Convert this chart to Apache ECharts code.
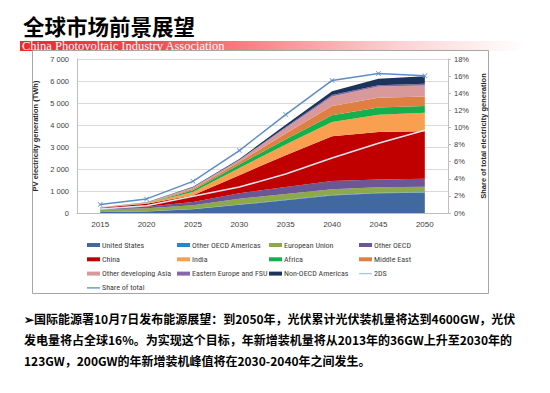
<!DOCTYPE html>
<html><head><meta charset="utf-8">
<script src="https://cdn.jsdelivr.net/npm/echarts@6/dist/echarts.min.js"></script>
<style>html,body{margin:0;padding:0;background:#fff}#c{width:550px;height:393px}</style>
</head><body><div id="c"></div>
<script>
const years = ['2015','2020','2025','2030','2035','2040','2045','2050'];
const unitedStates   = [40, 70, 170, 370, 580, 790, 895, 915];
const otherOecdAmer  = [5, 8, 15, 20, 22, 25, 25, 25];
const europeanUnion  = [110, 140, 170, 260, 265, 260, 245, 253];
const otherOecd      = [45, 70, 150, 250, 310, 375, 360, 362];
const china          = [40, 130, 300, 820, 1450, 2040, 2160, 2160];
const india          = [5, 20, 150, 320, 490, 650, 785, 845];
const africa         = [3, 10, 75, 170, 240, 300, 320, 300];
const middleEast     = [3, 10, 60, 110, 260, 420, 450, 440];
const otherDevAsia   = [5, 15, 65, 80, 250, 440, 510, 500];
const easternEurope  = [2, 5, 10, 20, 40, 60, 60, 80];
const nonOecdAmer    = [5, 12, 25, 40, 100, 170, 290, 340];
const twoDS          = [180, 330, 760, 1180, 1770, 2500, 3170, 3760];
const shareOfTotal   = [1.0, 1.65, 3.7, 7.3, 11.5, 15.5, 16.3, 16.05];

const areaDefs = [
  ['United States', unitedStates, '#41689F'],
  ['Other OECD Americas', otherOecdAmer, '#2A86CC'],
  ['European Union', europeanUnion, '#8EA84C'],
  ['Other OECD', otherOecd, '#6B5795'],
  ['China', china, '#C00000'],
  ['India', india, '#F8A04F'],
  ['Africa', africa, '#13B04B'],
  ['Middle East', middleEast, '#DF7F42'],
  ['Other developing Asia', otherDevAsia, '#D9999B'],
  ['Eastern Europe and FSU', easternEurope, '#8468AA'],
  ['Non-OECD Americas', nonOecdAmer, '#1C3459']
];

const series = areaDefs.map(d => ({
  name: d[0], type: 'line', stack: 'pv', data: d[1], symbol: 'none',
  lineStyle: {width: 0}, areaStyle: {color: d[2], opacity: 1}, itemStyle: {color: d[2]},
  emphasis: {disabled: true}, z: 2
}));
series.push({
  name: '2DS', type: 'line', data: twoDS, symbol: 'none',
  lineStyle: {width: 1.5, color: '#DDE5F0'}, itemStyle: {color: '#A9C6E8'}, z: 5
});
series.push({
  name: 'Share of total', type: 'line', yAxisIndex: 1, data: shareOfTotal,
  symbol: 'path://M0,1L1,0L5,4L9,0L10,1L6,5L10,9L9,10L5,6L1,10L0,9L4,5Z', symbolSize: 5,
  lineStyle: {width: 1.5, color: '#5E8CC8'}, itemStyle: {color: '#5E8CC8'}, z: 6
});

const legendText = {fontSize: 8, color: '#404040', fontFamily: '"Liberation Sans Narrow", "Roboto Condensed", "DejaVu Sans Condensed", "Liberation Sans"', lineHeight: 10, padding: [0, 0, 0, -3]};
const lineIcon = 'path://M0,0H14V1.4H0Z';
function leg(left, names) {
  return {
    orient: 'vertical', left: left, top: 235, itemWidth: 13, itemHeight: 4, itemGap: 4.3,
    textStyle: legendText, selectedMode: false,
    data: names.map(n => ({name: n, icon: (n === '2DS' || n === 'Share of total') ? lineIcon : 'rect'}))
  };
}
const legends = [
  leg(82, ['United States', 'China', 'Other developing Asia', 'Share of total']),
  leg(172, ['Other OECD Americas', 'India', 'Eastern Europe and FSU']),
  leg(264, ['European Union', 'Africa', 'Non-OECD Americas']),
  leg(354, ['Other OECD', 'Middle East', '2DS'])
];

const bodyFont = 'bold 12px "Noto Sans CJK SC"';
const option = {
  animation: false,
  backgroundColor: '#fff',
  grid: {left: 77, right: 102, top: 59, bottom: 180},
  legend: legends,
  xAxis: {
    type: 'category', data: years, boundaryGap: true,
    axisLine: {lineStyle: {color: '#BFBFBF'}}, axisTick: {show: false},
    axisLabel: {fontSize: 8, color: '#404040', margin: 7, fontFamily: 'Liberation Sans'}
  },
  yAxis: [{
    type: 'value', min: 0, max: 7000, interval: 1000,
    name: 'PV electricity generation (TWh)', nameLocation: 'middle', nameRotate: 90, nameGap: 28,
    nameTextStyle: {fontSize: 7.5, fontWeight: 'bold', color: '#262626', fontFamily: 'Liberation Sans'},
    axisLine: {show: true, lineStyle: {color: '#BFBFBF'}}, axisTick: {show: false},
    splitLine: {lineStyle: {color: '#D9D9D9'}},
    axisLabel: {fontSize: 7.5, color: '#404040', margin: 8, fontFamily: 'Liberation Sans',
      formatter: v => v === 0 ? '0' : (v / 1000) + ' 000'}
  }, {
    type: 'value', min: 0, max: 18, interval: 2, position: 'right',
    name: 'Share of total electricity generation', nameLocation: 'middle', nameRotate: 90, nameGap: 25,
    nameTextStyle: {fontSize: 7.5, fontWeight: 'bold', color: '#262626', fontFamily: 'Liberation Sans'},
    axisLine: {show: true, lineStyle: {color: '#BFBFBF'}},
    axisTick: {show: true, length: 3, lineStyle: {color: '#BFBFBF'}},
    splitLine: {show: false},
    axisLabel: {fontSize: 7.5, color: '#404040', margin: 6, fontFamily: 'Liberation Sans', formatter: '{value}%'}
  }],
  series: series,
  graphic: [
    {type: 'rect', z: 0, shape: {x: 20, y: 41, width: 505, height: 10},
      style: {fill: {type: 'linear', x: 0, y: 0, x2: 1, y2: 0, colorStops: [
        {offset: 0, color: '#EC2A2E'}, {offset: 0.25, color: '#F04A4E'},
        {offset: 0.5, color: '#F78F92'}, {offset: 0.75, color: '#FCD2D3'}, {offset: 1, color: '#FFFFFF'}]}}},
    {type: 'text', z: 1, x: 22, y: 46, style: {text: 'China Photovoltaic Industry Association',
      font: '12.5px "Liberation Serif"', fill: '#FFFFFF', verticalAlign: 'middle'}},
    {type: 'text', z: 1, x: 23, y: 25, style: {text: '全球市场前景展望',
      font: 'bold 21.5px "Noto Sans CJK SC"', fill: '#000000', verticalAlign: 'middle'}},
    {type: 'rect', z: 0, shape: {x: 32.5, y: 50.5, width: 456, height: 243},
      style: {fill: 'none', stroke: '#A6A6A6', lineWidth: 1}},
    {type: 'text', z: 1, x: 24, y: 318, style: {text: '➢国际能源署10月7日发布能源展望：到2050年，光伏累计光伏装机量将达到4600GW，光伏',
      font: bodyFont, fill: '#000', verticalAlign: 'middle'}},
    {type: 'text', z: 1, x: 24, y: 339, style: {text: '发电量将占全球16%。为实现这个目标，年新增装机量将从2013年的36GW上升至2030年的',
      font: bodyFont, fill: '#000', verticalAlign: 'middle'}},
    {type: 'text', z: 1, x: 24, y: 360, style: {text: '123GW，200GW的年新增装机峰值将在2030-2040年之间发生。',
      font: bodyFont, fill: '#000', verticalAlign: 'middle'}}
  ]
};
const chart = echarts.init(document.getElementById('c'), null, {renderer: 'svg'});
chart.setOption(option);
</script></body></html>
